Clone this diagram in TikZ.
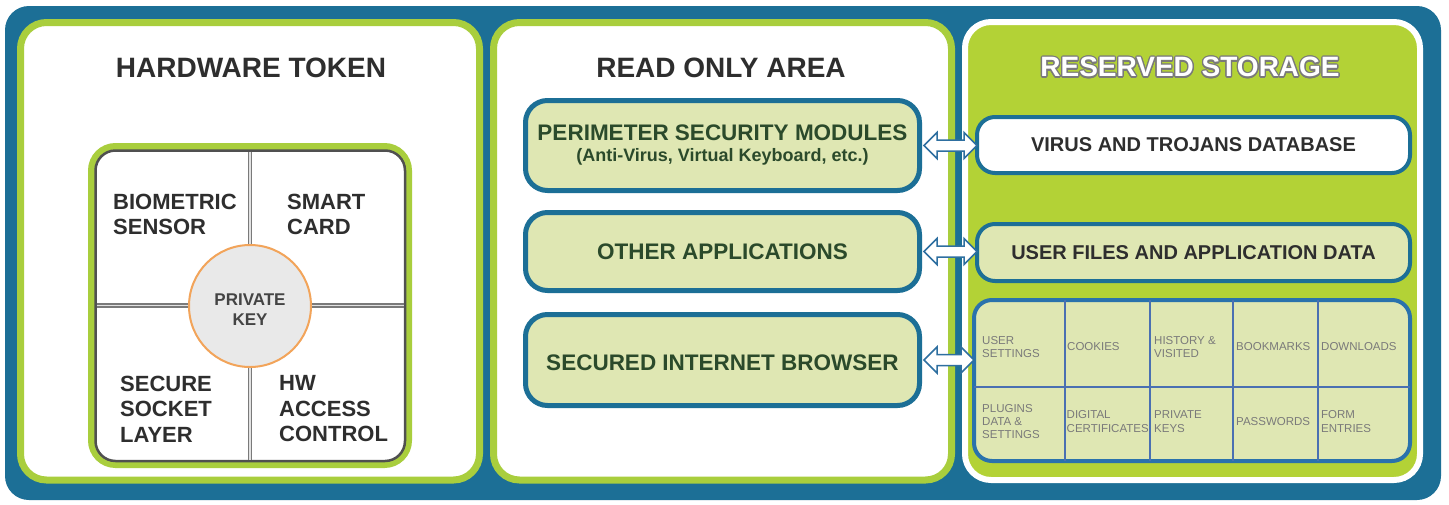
\documentclass[tikz,border=0pt]{standalone}
\usepackage{fontspec}
\setmainfont{Liberation Sans}
\usepackage{contour}
\contourlength{1.3pt}
\usetikzlibrary{calc}
\definecolor{teal0}{HTML}{1C6F96}
\definecolor{pgreen}{HTML}{A9CE3D}
\definecolor{sgreen}{HTML}{B3D236}
\definecolor{lgreen}{HTML}{DFE7B3}
\definecolor{dgreen}{HTML}{2B4A2B}
\definecolor{tgray}{HTML}{2E2E2E}
\definecolor{cgray}{HTML}{7A7A7A}
\definecolor{gridblue}{HTML}{4A70B2}
\definecolor{gridedge}{HTML}{2A72AC}
\definecolor{orng}{HTML}{F2A45A}
\definecolor{kfill}{HTML}{E9E9E9}
\definecolor{ogray}{HTML}{7A7A7A}
\definecolor{dgray}{HTML}{505050}
\definecolor{kgray}{HTML}{444444}
\definecolor{divgray}{HTML}{7A7A7A}
\definecolor{divin}{HTML}{E2E2E2}
\definecolor{arrowblue}{HTML}{2E6FA0}
\newcommand{\biarrow}[2]{%
  \draw[biarrowstyle] let \p1=(#1.east), \p2=(#2.west), \n1={\x2-\x1-26} in
    (\x1+2pt,\y1) -- ++(13pt,13pt) -- ++(0pt,-7.5pt) -- ++(\n1,0) -- ++(0pt,7.5pt)
    -- ++(13pt,-13pt) -- ++(-13pt,-13pt) -- ++(0pt,7.5pt) -- ++(-\n1,0) -- ++(0pt,-7.5pt) -- cycle;}
\begin{document}
\begin{tikzpicture}[x=1pt,y=-1pt,
  title/.style={inner sep=0, font=\fontsize{28}{32}\selectfont\bfseries, text=tgray},
  httext/.style={anchor=west, align=left, inner sep=0, font=\fontsize{22}{25.5}\selectfont\bfseries, text=tgray},
  panel/.style={draw=pgreen, line width=7, fill=white, rounded corners=26},
  divider/.style={draw=divgray, line width=1.3, double=divin, double distance=1.8},
  lbox/.style={draw=teal0, line width=5, fill=lgreen, rounded corners=22, minimum width=394, inner sep=0,
    text=dgreen, font=\fontsize{22.5}{21}\selectfont\bfseries, align=center},
  rbox/.style={draw=teal0, line width=4, rounded corners=18, minimum width=433, inner sep=0,
    font=\fontsize{20}{24}\selectfont\bfseries, text=tgray},
  gridline/.style={draw=gridblue, line width=1.6},
  cell/.style={anchor=west, align=left, inner sep=0, font=\fontsize{11.5}{13.2}\selectfont, text=cgray},
  biarrowstyle/.style={draw=arrowblue, fill=white, line width=1.5, line join=miter}
]
\useasboundingbox (0,0) rectangle (1449,504);
\fill[white] (0,0) rectangle (1449,504);
\fill[teal0, rounded corners=24] (5,6) rectangle (1441,500);

% panels
\draw[panel] (20.5,22.5) rectangle (479.5,480);
\draw[panel] (493.5,22.5) rectangle (951.5,480);
\draw[draw=white, line width=6, fill=sgreen, rounded corners=26] (965,22) rectangle (1420,480);

% titles
\node[title] (ht) at (251,68) {HARDWARE TOKEN};
\node[title] (ro) at (721,68) {READ ONLY AREA};
\node[title, text=white] (rs) at (1190,68) {\contour{ogray}{RESERVED STORAGE}};

% hardware token square
\draw[pgreen, line width=7, rounded corners=24] (91.5,146.5) rectangle (408.5,464.5);
\draw[draw=dgray, line width=2.5, fill=white, rounded corners=20] (95.5,150.5) rectangle (405,461);
\draw[divider] (250,151.5) -- (250,460);
\draw[divider] (96.5,305.5) -- (404,305.5);
\node[circle, draw=orng, fill=kfill, line width=2, minimum size=122, inner sep=0] (pk) at (250,306) {};
\node[align=center, inner sep=0, font=\fontsize{17}{20}\selectfont\bfseries, text=kgray] (pkt) at (250,310) {PRIVATE\\KEY};
\node[httext] (bio) at (113,214.5) {BIOMETRIC\\SENSOR};
\node[httext] (sc) at (287,214.5) {SMART\\CARD};
\node[httext] (ssl) at (120,409) {SECURE\\SOCKET\\LAYER};
\node[httext] (hw) at (279,409) {HW\\ACCESS\\CONTROL};

% read only area boxes
\node[lbox, minimum height=90] (ps) at (722.5,145.5)
  {PERIMETER SECURITY MODULES\\{\fontsize{18}{21}\selectfont (Anti-Virus, Virtual Keyboard, etc.)}};
\node[lbox, minimum height=78] (oa) at (722.5,251.5) {OTHER APPLICATIONS};
\node[lbox, minimum height=91, text height=22pt] (sb) at (722.5,360) {SECURED INTERNET BROWSER};

% reserved storage boxes
\node[rbox, fill=white, minimum height=56] (vt) at (1193.5,145) {VIRUS AND TROJANS DATABASE};
\node[rbox, fill=lgreen, minimum height=57] (uf) at (1193.5,252.5) {USER FILES AND APPLICATION DATA};
\node[draw=gridedge, line width=4, rounded corners=18, fill=lgreen, minimum width=436, minimum height=161, inner sep=0] (grid) at (1192,380.5) {};
\foreach \gx in {1065,1150,1233,1318} \draw[gridline] (\gx,300) -- (\gx,461);
\draw[gridline] (974,387) -- (1410,387);

\node[cell] (c1) at (982,347) {USER\\SETTINGS};
\node[cell] (c2) at (1067,347) {COOKIES};
\node[cell] (c3) at (1154,347) {HISTORY \&\\VISITED};
\node[cell] (c4) at (1236,347) {BOOKMARKS};
\node[cell] (c5) at (1321,347) {DOWNLOADS};
\node[cell] (c6) at (982,421.5) {PLUGINS\\DATA \&\\SETTINGS};
\node[cell] (c7) at (1066.5,421.5) {DIGITAL\\CERTIFICATES};
\node[cell] (c8) at (1154,421.5) {PRIVATE\\KEYS};
\node[cell] (c9) at (1236,421.5) {PASSWORDS};
\node[cell] (c10) at (1321,421.5) {FORM\\ENTRIES};

% connectors
\biarrow{ps}{vt}
\biarrow{oa}{uf}
\biarrow{sb}{grid}
\end{tikzpicture}
\end{document}
